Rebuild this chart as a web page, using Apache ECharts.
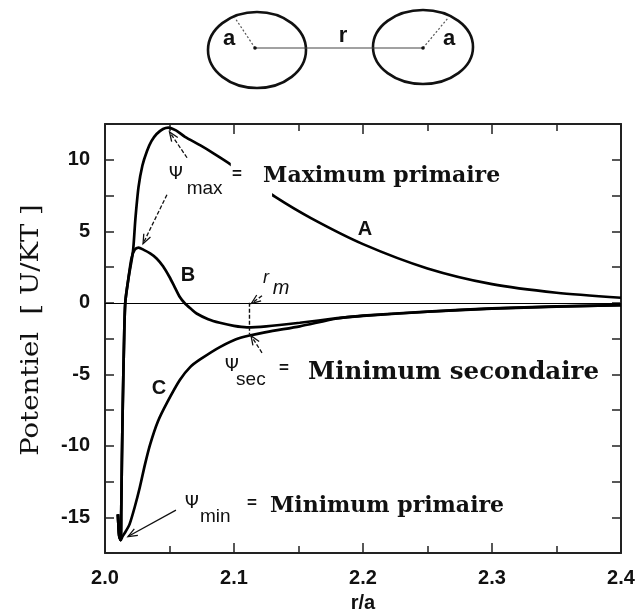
<!DOCTYPE html>
<html><head><meta charset="utf-8">
<script src="https://cdn.jsdelivr.net/npm/echarts@6/dist/echarts.min.js"></script>
<style>html,body{margin:0;padding:0;background:#fff}#c{width:639px;height:610px}</style>
</head><body><div id="c"></div>
<script>
// ---- data (r/a , U/kT) ----
const curveA = [[2.0100,-14.8],[2.0110,-16.3],[2.0122,-16.6],[2.0126,-14.5],[2.0131,-11],[2.0138,-7],[2.0147,-3],[2.0157,0],[2.018,1.6],[2.0217,3.6],[2.0235,5.8],[2.026,8.1],[2.029,9.6],[2.0325,10.6],[2.036,11.3],[2.040,11.8],[2.045,12.15],[2.049,12.25],[2.055,12.05],[2.062,11.6],[2.074,11.0],[2.085,10.4],[2.097,9.7],[2.11,8.8],[2.132,7.4],[2.16,5.9],[2.20,4.1],[2.25,2.4],[2.30,1.3],[2.35,0.7],[2.40,0.35]];
const curveB = [[2.0100,-14.8],[2.0110,-16.3],[2.0122,-16.6],[2.0126,-14.5],[2.0131,-11],[2.0138,-7],[2.0147,-3],[2.0157,0],[2.018,1.6],[2.0205,3.1],[2.023,3.7],[2.026,3.85],[2.030,3.7],[2.035,3.45],[2.040,3.1],[2.045,2.55],[2.050,1.8],[2.054,1.1],[2.058,0.4],[2.062,-0.05],[2.067,-0.45],[2.071,-0.75],[2.08,-1.15],[2.089,-1.4],[2.1,-1.62],[2.11,-1.72],[2.125,-1.65],[2.151,-1.4],[2.18,-1.08],[2.2,-0.9],[2.25,-0.62],[2.3,-0.4],[2.35,-0.26],[2.4,-0.16]];
const curveC = [[2.0100,-14.8],[2.0110,-16.3],[2.0122,-16.6],[2.0135,-16.35],[2.016,-16.0],[2.019,-15.5],[2.023,-14.3],[2.027,-12.9],[2.031,-11.3],[2.035,-9.9],[2.041,-8.3],[2.048,-7.0],[2.058,-5.4],[2.066,-4.5],[2.074,-3.95],[2.089,-3.1],[2.105,-2.45],[2.125,-2.05],[2.151,-1.65],[2.18,-1.1],[2.2,-0.92],[2.25,-0.63],[2.3,-0.41],[2.35,-0.27],[2.4,-0.17]];
const curveNames = ['A','B','C'];
const curveLabelAt = [[2.2016,5.1],[2.0643,1.89],[2.0419,-6.0]];
const rm = 2.112;
const rmDepth = -2.2;
const xTickLabels = ['2.0','2.1','2.2','2.3','2.4'];
const yTickLabels = ['-15','-10','-5','0','5','10'];

const chart = echarts.init(document.getElementById('c'), null, {renderer:'canvas'});
const AX = '#222';
const sans = 'Liberation Sans, Arial, sans-serif';
const serif = 'DejaVu Serif, serif';
function xAx(pos, labels){
  return {type:'value', min:2.0, max:2.4, interval:0.1, position:pos,
    axisLine:{onZero:false, lineStyle:{color:AX,width:2}},
    axisTick:{inside:true,length:10,lineStyle:{color:AX,width:1.5}},
    minorTick:{show:true,splitNumber:2,length:7,lineStyle:{color:AX,width:1.5}},
    splitLine:{show:false}, minorSplitLine:{show:false},
    axisLabel:{show:labels, margin:15, fontSize:20, fontWeight:'bold', color:'#111', fontFamily:sans,
      formatter:v=>{const s=v.toFixed(1); return xTickLabels.includes(s)?s:'';}},
    name: labels?'r/a':'', nameLocation:'middle', nameGap:40,
    nameTextStyle:{fontSize:20,fontWeight:'bold',color:'#111',fontFamily:sans}};
}
function yAx(pos, labels){
  return {type:'value', min:-17.5, max:12.5, interval:2.5, position:pos,
    axisLine:{onZero:false, lineStyle:{color:AX,width:2}},
    axisTick:{inside:true,length:9,lineStyle:{color:AX,width:1.5}},
    splitLine:{show:false},
    axisLabel:{show:labels, margin:15, fontSize:20, fontWeight:'bold', color:'#111', fontFamily:sans,
      formatter:v=>{const s=String(Math.round(v*10)/10); return yTickLabels.includes(s)?s:'';}}};
}
const lineS = {type:'line', showSymbol:false, symbol:'none', smooth:0.25, silent:true,
  lineStyle:{color:'#000',width:2.7}, z:3};
chart.setOption({
  animation:false,
  backgroundColor:'#fff',
  grid:{left:105,right:18,top:124,bottom:57,containLabel:false,outerBoundsMode:'none'},
  xAxis:[xAx('bottom',true), xAx('top',false)],
  yAxis:[yAx('left',true), yAx('right',false)],
  series:[
    Object.assign({}, lineS, {name:'A', data:curveA,
      markLine:{silent:true, symbol:'none', label:{show:false}, lineStyle:{color:'#000',width:1.2,type:'solid'}, data:[{yAxis:0}]}}),
    Object.assign({}, lineS, {name:'B', data:curveB}),
    Object.assign({}, lineS, {name:'C', data:curveC})
  ]
});

function P(p){ return chart.convertToPixel({xAxisIndex:0,yAxisIndex:0}, p); }
const g = [];
{
  const a = P([2.0975, 9.85]), b = P([2.1295, 7.0]);
  g.push({type:'rect', z:50, shape:{x:a[0],y:a[1],width:b[0]-a[0],height:b[1]-a[1]}, style:{fill:'#fff'}});
}
function txt(t, at, font, opt){
  const p = P(at);
  g.push({type:'text', z:60, x:p[0], y:p[1], style:Object.assign({text:t, font:font, fill:'#111', align:'left', verticalAlign:'middle'}, opt||{})});
}
curveNames.forEach((n,i)=>txt(n, curveLabelAt[i], 'bold 20px '+sans, {align:'center'}));
txt('r', [2.1248,1.75], 'italic 18px '+sans, {align:'center'});
txt('m', [2.1364,0.98], 'italic 20px '+sans, {align:'center'});
const psiFont = '18px DejaVu Sans, sans-serif';
const subFont = '19px '+sans;
const eqFont = 'bold 17px '+sans;
txt('Ψ', [2.055,8.95], psiFont, {align:'center'});
txt('max', [2.0633,8.0], subFont);
txt('=', [2.1023,8.95], eqFont, {align:'center'});
txt('Maximum primaire', [2.1225,8.81], 'bold 22px '+serif);
txt('Ψ', [2.0984,-4.48], psiFont, {align:'center'});
txt('sec', [2.1016,-5.38], subFont);
txt('=', [2.1388,-4.6], eqFont, {align:'center'});
txt('Minimum secondaire', [2.1574,-4.9], 'bold 24.5px '+serif);
txt('Ψ', [2.0674,-14.06], psiFont, {align:'center'});
txt('min', [2.0736,-14.95], subFont);
txt('=', [2.114,-14.0], eqFont, {align:'center'});
txt('Minimum primaire', [2.1279,-14.2], 'bold 22px '+serif);
function arrow(a0, b0, dashed){
  const a = P(a0), b = P(b0);
  g.push({type:'line', z:55, shape:{x1:a[0],y1:a[1],x2:b[0],y2:b[1]}, style:{stroke:'#111',lineWidth:1.3,lineDash:dashed?[4,2]:null}});
  const ang = Math.atan2(a[1]-b[1], a[0]-b[0]);
  const L = 10, s = 0.38;
  g.push({type:'polyline', z:55, shape:{points:[[b[0]+L*Math.cos(ang+s), b[1]+L*Math.sin(ang+s)], [b[0],b[1]], [b[0]+L*Math.cos(ang-s), b[1]+L*Math.sin(ang-s)]]}, style:{stroke:'#111',lineWidth:1.3,fill:null}});
}
arrow([2.0636,10.14],[2.050,11.95], true);
arrow([2.048,7.55],[2.0295,4.13], true);
arrow([2.1217,0.49],[2.1135,-0.05], true);
arrow([2.1217,-3.5],[2.1132,-2.3], true);
arrow([2.055,-14.5],[2.0178,-16.35], false);
{
  const a = P([rm,0]), b = P([rm,rmDepth]);
  g.push({type:'line', z:55, shape:{x1:a[0],y1:a[1],x2:b[0],y2:b[1]}, style:{stroke:'#111',lineWidth:1.4,lineDash:[4,2]}});
}
g.push({type:'text', z:60, x:31, y:330, rotation:Math.PI/2, scaleX:1.1,
  style:{text:'Potentiel  [ U/KT ]', font:'25px '+serif, fill:'#111', align:'center', verticalAlign:'middle'}});
g.push({type:'ellipse', shape:{cx:257,cy:50,rx:49,ry:38}, style:{stroke:'#111',lineWidth:2.6,fill:null}});
g.push({type:'ellipse', shape:{cx:423,cy:47,rx:50,ry:37}, style:{stroke:'#111',lineWidth:2.6,fill:null}});
g.push({type:'line', shape:{x1:255,y1:48,x2:423,y2:48}, style:{stroke:'#444',lineWidth:1}});
g.push({type:'line', shape:{x1:255,y1:48,x2:235,y2:18}, style:{stroke:'#555',lineWidth:1.2,lineDash:[2,2]}});
g.push({type:'line', shape:{x1:423,y1:48,x2:448,y2:18}, style:{stroke:'#555',lineWidth:1.2,lineDash:[2,2]}});
g.push({type:'circle', shape:{cx:255,cy:48,r:1.8}, style:{fill:'#111'}});
g.push({type:'circle', shape:{cx:423,cy:48,r:1.8}, style:{fill:'#111'}});
g.push({type:'text', x:229, y:39, style:{text:'a', font:'bold 22px '+sans, fill:'#111', align:'center', verticalAlign:'middle'}});
g.push({type:'text', x:449, y:39, style:{text:'a', font:'bold 22px '+sans, fill:'#111', align:'center', verticalAlign:'middle'}});
g.push({type:'text', x:343, y:36, style:{text:'r', font:'bold 22px '+sans, fill:'#111', align:'center', verticalAlign:'middle'}});
chart.setOption({graphic:{elements:g}});
</script></body></html>
